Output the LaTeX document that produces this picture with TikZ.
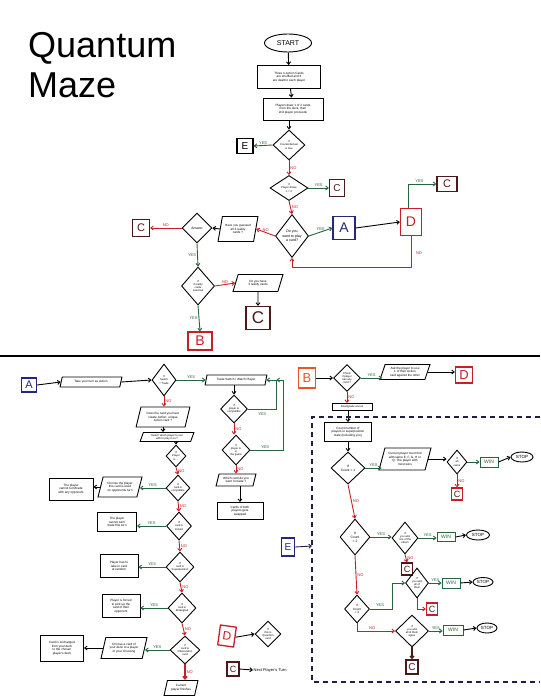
\documentclass[tikz,border=0pt]{standalone}
\usepackage{fontspec}
\setmainfont{Liberation Sans}
\usetikzlibrary{shapes.geometric,arrows.meta,calc}
\definecolor{cred}{RGB}{200,30,40}
\definecolor{cgreen}{RGB}{40,100,60}
\definecolor{cblue}{RGB}{35,40,125}
\definecolor{cbrown}{RGB}{75,25,25}
\definecolor{corange}{RGB}{232,85,40}
\definecolor{cnavy}{RGB}{30,30,70}
\begin{document}
\begin{tikzpicture}[x=1pt,y=-1pt,
  tx/.style={font=\fontsize{3.1}{3.6}\selectfont, align=center, inner sep=0.3pt},
  sm/.style={font=\fontsize{2.7}{3.1}\selectfont},
  sz/.style 2 args={minimum width=#1, minimum height=#2},
  bx/.style={tx, draw, line width=0.9pt, rectangle},
  dia/.style={tx, draw, line width=0.9pt, diamond, inner sep=0pt},
  par/.style={tx, draw, line width=0.9pt, trapezium, trapezium left angle=70, trapezium right angle=110, trapezium stretches=true},
  ovalbox/.style={draw, line width=0.9pt, ellipse, inner sep=0pt},
  letbox/.style={draw, line width=1.3pt, inner sep=0pt, align=center, font=\fontsize{#1}{#1}\selectfont},
  ar/.style={line width=0.9pt, -{Straight Barb[length=2.5pt,width=4pt]}},
  yesa/.style={ar, cgreen},
  noa/.style={ar, cred},
  ylab/.style={font=\fontsize{4}{4}\selectfont, text=cgreen, inner sep=1pt},
  nlab/.style={font=\fontsize{4}{4}\selectfont, text=cred, inner sep=1pt},
  winbox/.style={draw=cgreen, text=cgreen, line width=0.9pt, inner sep=0pt, font=\fontsize{5}{5}\selectfont},
  stopov/.style={ovalbox, font=\fontsize{4.5}{5}\selectfont}
]
\useasboundingbox (0,0) rectangle (540,700);
\fill[white] (0,0) rectangle (540,700);

% ---------- title ----------
\node[anchor=base west, inner sep=0pt, font=\fontsize{36}{36}\selectfont] (title1) at (28,58) {Quantum};
\node[anchor=base west, inner sep=0pt, font=\fontsize{36}{36}\selectfont] (title2) at (28,98) {Maze};

% ---------- top flowchart ----------
\node[ovalbox, sz={47}{18}, font=\fontsize{7}{8}\selectfont] (start) at (288,43) {START};
\node[bx, sz={63}{23}] (b1) at (289,77) {Three n-Action Cards\\are shuffled and 3\\are dealt to each player};
\node[bx, sz={60}{22}] (b2) at (293,109) {Players draw 1 of 2 cards\\from the deck, then\\2nd player proceeds};
\node[dia, sm, sz={32}{30}] (q1) at (289,145) {If\\Counterfactual\\is true};
\node[letbox=10, sz={16}{15}] (E1) at (245,146) {E};
\node[dia, sm, sz={38}{25}] (q2) at (289,188) {If\\Player draws\\n = 0};
\node[letbox=10, draw=cbrown, text=cbrown, sz={15}{17}] (C1) at (337,188) {C};
\node[dia, font=\fontsize{3.6}{4.3}\selectfont, sz={33}{43}] (q3) at (292,236) {Do you\\want to play\\a card?};
\node[letbox=14, draw=cblue, text=cblue, sz={22}{23}] (A1) at (344,228) {A};
\node[letbox=14, draw=cred, text=cred, sz={21}{27}] (D1) at (411,222) {D};
\node[letbox=11, draw=cbrown, text=cbrown, sz={20}{15}] (C2) at (447,184) {C};
\node[par, sz={40}{25}] (p1) at (238,229) {Have you guessed\\all 3 reality\\cards ?};
\node[dia, font=\fontsize{3.4}{4}\selectfont, sz={30}{30}] (q4) at (197,228) {Answer};
\node[letbox=11, draw=cbrown, text=cbrown, sz={17}{17}] (C3) at (141,228) {C};
\node[dia, sm, sz={33}{38}] (q5) at (198,286) {If\\3 reality\\cards\\selected};
\node[par, sz={50}{17}] (p2) at (258,283) {Do you have\\3 reality cards};
\node[letbox=17, draw=cbrown, text=cbrown, sz={24}{23}] (C4) at (258,318) {C};
\node[letbox=14, draw=cred, text=cred, sz={24}{18}] (B1) at (200,341) {B};

\draw[ar] (start) -- (b1);
\draw[ar] (b1) -- (b2);
\draw[ar] (b2.south -| q1.north) -- (q1.north);
\draw[yesa] (q1.west) -- (E1.east) node[midway, above, ylab] {YES};
\draw[noa] (q1.south) -- (q2.north) node[midway, right, nlab] {NO};
\draw[yesa] (q2.east) -- (C1.west) node[midway, above, ylab] {YES};
\draw[noa] (q2.south) -- (q3.north) node[midway, right, nlab] {NO};
\draw[yesa] (q3.east) -- (A1.west) node[midway, above, ylab] {YES};
\draw[ar] (A1.east) -- (D1.west);
\draw[yesa] ($(D1.north)+(-3,0)$) |- (C2.west) node[pos=0.7, above, ylab] {YES};
\draw[noa] (D1.south) -- ++(0,31.5) -| (q3.south);
\node[nlab] (dno) at (419,253) {NO};
\draw[noa] (q3.west) -- (p1.east) node[midway, above, nlab] {NO};
\draw[ar] (p1.west) -- (q4.east);
\draw[noa] (q4.west) -- (C3.east) node[midway, above, nlab] {NO};
\draw[yesa] (q4.south) -- (q5.north) node[midway, left, ylab] {YES};
\draw[noa] (q5.east) -- (p2.west) node[midway, above, nlab] {NO};
\draw[ar] (p2.south) -- (C4.north);
\draw[yesa] (q5.south) -- (B1.north) node[midway, left, ylab] {YES};

% ---------- separator ----------
\draw[line width=1.6pt] (0,356) -- (540,356);

% ---------- bottom left: A ----------
\node[letbox=11, draw=cblue, text=cblue, sz={15}{14}] (A2) at (29,385) {A};
\node[par, sz={62}{10}] (p3) at (91,382) {Take your turn as Action};
\node[dia, sm, sz={24}{32}] (q6) at (164,380) {If\\Switch\\= Trade};
\node[par, sz={62}{10}] (p4) at (236,380) {Trade Switch / Watch Player};
\node[dia, sm, sz={27}{28}] (q7) at (234,409) {If\\player is\\compatible};
\node[dia, sm, sz={28}{30}] (q8) at (236,450) {If\\player is\\in\\the game};
\node[par, sz={40}{12}] (p5) at (236,480) {Which card do you\\want to trade ?};
\node[bx, sz={46}{17}] (b5) at (240,511) {Cards of both\\players gets\\swapped};

\node[par, sz={54}{20}] (p6) at (163,417) {Does the card you have\\create Action: unique\\Action card ?};
\node[par, sm, sz={54}{9}] (p7) at (167,437) {Switch which player to use\\with to play it on ?};
\node[dia, sm, sz={20}{22}] (q9) at (176,456) {If\\Player\\is ...};
\node[dia, sm, sz={24}{26}] (q10) at (178,488) {If\\card is\\compatible};
\node[par, sz={44}{20}] (p8) at (120,487) {Choose the player\\this card is used\\on opponents turn};
\node[bx, sz={44}{22}] (b6) at (71,489) {The player\\cannot turn/trade\\with any opponent};
\node[dia, sm, sz={25}{28}] (q11) at (179,526) {If\\card is\\locked};
\node[bx, sz={39}{19}] (b7) at (117,522) {The player\\cannot turn/\\trade this turn};
\node[dia, sm, sz={28}{30}] (q12) at (180,567) {If\\card is\\Superposition};
\node[bx, sz={38}{23}] (b8) at (119,566) {Player has to\\take in card\\at random};
\node[dia, sm, sz={28}{30}] (q13) at (182,608) {If\\card is\\Entangled};
\node[bx, sz={38}{23}] (b9) at (121,606) {Player is forced\\to pick up the\\card of their\\opponent};
\node[dia, sm, sz={30}{28}] (q14) at (185,650) {If\\card is\\Observation\\card};
\node[par, sz={46}{21}] (p9) at (124,648) {Choose a card of\\your deck to a player\\of your choosing};
\node[bx, sz={43}{26}] (b10) at (62,648) {Card is exchanged\\from your deck\\to the chosen\\player's deck};
\node[par, sz={34}{15}] (p10) at (181,688) {Current\\player finishes};

\draw[ar] (A2.east) -- (p3.west);
\draw[ar] (p3.east) -- (q6.west);
\draw[yesa] (q6.east) -- (p4.west) node[midway, above, ylab] {YES};
\draw[noa] (q6.south) -- (q6.south |- p6.north) node[midway, right, nlab] {NO};
\draw[ar] (p6.south) -- (p6.south |- p7.north);
\draw[ar] (q9.north |- p7.south) -- (q9.north);
\draw[noa] (q9.south) -- (q10.north) node[midway, right, nlab] {NO};
\draw[yesa] (q10.west) -- (q10.west -| p8.east) node[midway, above, ylab] {YES};
\draw[ar] (p8.west) -- (p8.west -| b6.east);
\draw[noa] (q10.south) -- (q11.north) node[midway, right, nlab] {NO};
\draw[yesa] (q11.west) -- (q11.west -| b7.east) node[midway, above, ylab] {YES};
\draw[noa] (q11.south) -- (q12.north) node[midway, right, nlab] {NO};
\draw[yesa] (q12.west) -- (q12.west -| b8.east) node[midway, above, ylab] {YES};
\draw[noa] (q12.south) -- (q13.north) node[midway, right, nlab] {NO};
\draw[yesa] (q13.west) -- (q13.west -| b9.east) node[midway, above, ylab] {YES};
\draw[noa] (q13.south) -- (q14.north) node[midway, right, nlab] {NO};
\draw[yesa] (q14.west) -- (q14.west -| p9.east) node[midway, above, ylab] {YES};
\draw[ar] (p9.west) -- (p9.west -| b10.east);
\draw[noa, line width=1.6pt] (q14.south) -- (q14.south |- p10.north) node[midway, right, nlab] {NO};

\draw[ar] (p4.south -| q7.north) -- (q7.north);
\draw[noa] (q7.south) -- (q7.south |- q8.north) node[midway, right, nlab] {NO};
\draw[noa] (q8.south) -- (q8.south |- p5.north) node[midway, right, nlab] {NO};
\draw[ar] (p5.south -| b5.north) -- (b5.north);
\draw[yesa] (q7.east) -| ($(p4.east)+(10,0)$) -- (p4.east);
\draw[yesa] (q8.east) -| ($(p4.east)+(17,0)$) -- ($(p4.east)+(10,0)$);
\node[ylab] (y7) at (262,414) {YES};
\node[ylab] (y8) at (265,447) {YES};

% ---------- bottom right: B ----------
\node[letbox=13, draw=corange, text=corange, sz={17}{20}] (B2) at (307,378) {B};
\node[dia, sm, sz={27}{27}] (q15) at (347,378) {Check\\if player\\has any\\card ?};
\node[par, sz={50}{15}] (p11) at (405,372) {Ask the player to use\\1 of their Action\\card against the other};
\node[letbox=13, draw=cred, text=cred, sz={17}{16}] (D2) at (464,375) {D};
\node[bx, sm, sz={40}{7}] (b11) at (352,407) {Downgrade a level};
\node[bx, sz={47}{19}] (b12) at (348,432) {Count number of\\players in superposition\\state (including you)};

\draw[ar] (B2.east) -- (q15.west);
\draw[yesa] (q15.east) -- (q15.east -| p11.west) node[midway, above, ylab] {YES};
\draw[ar] (p11.east) -- (p11.east -| D2.west);
\draw[noa] (q15.south) -- (q15.south |- b11.north) node[midway, right, nlab] {NO};
\draw[ar] (b11.south -| b12.north) -- (b12.north);

% dashed region
\draw[cnavy, line width=1.3pt, dash pattern=on 5pt off 4pt] (540,417) -- (312,417) -- (312,682) -- (540,682);
\node[letbox=10, draw=cblue, text=cblue, sz={13}{18}] (E2) at (288,547) {E};
\coordinate (ein) at (312,546);
\draw[ar, cnavy] (E2.east) -- (ein);

\node[dia, font=\fontsize{3.3}{4}\selectfont, sz={34}{32}] (q16) at (348,468) {If\\Count = 1};
\node[par, sz={52}{22}] (p12) at (405,459) {Current player must find\\with same E, F, G, H or\\Q. The player with\\most wins};
\node[dia, sm, sz={20}{24}] (q17) at (457,462) {If\\all\\same};
\node[winbox, sz={18}{10}] (w1) at (489,462) {WIN};
\node[stopov, sz={22}{10}] (s1) at (522,457) {STOP};
\node[letbox=9, draw=cred, text=cbrown, sz={11}{12}] (C5) at (457,494) {C};

\node[dia, font=\fontsize{3.3}{4}\selectfont, sz={30}{36}] (q18) at (355,537) {If\\Count\\= 2};
\node[dia, sm, sz={26}{32}] (q19) at (405,538) {If\\you and\\one of the\\others};
\node[winbox, sz={18}{9}] (w2) at (446,537) {WIN};
\node[stopov, sz={23}{10}] (s2) at (478,535) {STOP};
\node[letbox=9, draw=cbrown, text=cbrown, sz={11}{12}] (C6) at (407,569) {C};

\node[dia, font=\fontsize{3}{3.6}\selectfont, sz={25}{28}] (q20) at (357,609) {If\\Count\\= 3};
\node[dia, sm, sz={23}{30}] (q21) at (417,583) {If\\you and\\all of\\them};
\node[winbox, sz={18}{10}] (w3) at (451,583) {WIN};
\node[stopov, sz={20}{9}] (s3) at (483,582) {STOP};
\node[letbox=9, draw=cred, text=cbrown, sz={11}{12}] (C7) at (432,609) {C};

\node[dia, sm, sz={33}{32}] (q22) at (412,631) {If\\you and\\all of them\\agree};
\node[winbox, sz={20}{10}] (w4) at (453,630) {WIN};
\node[stopov, sz={20}{10}] (s4) at (487,628) {STOP};
\node[letbox=10, draw=cbrown, text=cbrown, sz={12}{14}] (C8) at (412,667) {C};

\draw[ar] (b12.south) -- (q16.north);
\draw[yesa] (q16.east) -- (q16.east -| p12.west) node[midway, above, ylab] {YES};
\draw[ar] (p12.east) -- (p12.east -| q17.west);
\draw[yesa] (q17.east) -- (w1.west);
\draw[ar] (w1.east) -- (s1.west);
\draw[noa] (q17.south) -- (C5.north) node[midway, right, nlab] {NO};
\draw[noa] (q16.south) -- (q18.north) node[midway, right, nlab] {NO};
\draw[yesa] (q18.east) -- (q18.east -| q19.west) node[midway, above, ylab] {YES};
\draw[yesa] (q19.east) -- (q19.east -| w2.west) node[midway, above, ylab] {YES};
\draw[ar] (w2.east) -- (s2.west);
\draw[noa] (q19.south) -- (C6.north) node[midway, right, nlab] {NO};
\draw[noa] (q18.south) -- (q20.north) node[midway, right, nlab] {NO};
\draw[yesa] (q20.east) -| ($(q21.west)+(-13,0)$) -- (q21.west);
\node[ylab] (y20) at (380,605) {YES};
\draw[yesa] (q21.east) -- (q21.east -| w3.west) node[midway, above, ylab] {YES};
\draw[ar] (w3.east) -- (s3.west);
\draw[noa] (q21.south) |- (C7.west);
\draw[noa] (q20.south) |- (q22.west) node[pos=0.7, above, nlab] {NO};
\draw[yesa] (q22.east) -- (q22.east -| w4.west) node[midway, above, ylab] {YES};
\draw[ar] (w4.east) -- (s4.west);
\draw[ar, cbrown, line width=1.2pt] (q22.south) -- (C8.north);

% ---------- D and C legends ----------
\node[letbox=12, draw=cred, text=cred, sz={16}{20}, rotate=-8] (D3) at (227,636) {D};
\node[dia, sm, sz={26}{26}] (q23) at (268,634) {If\\this is\\Quantum\\card};
\draw[ar] (D3.east) -- (q23.west);
\node[letbox=9, draw=cbrown, text=cbrown, sz={12}{14}] (C9) at (233,669) {C};
\node[font=\fontsize{4}{4}\selectfont, anchor=west, inner sep=0.5pt] (nt) at (253,670) {Next Player's Turn};
\draw[ar] (C9.east) -- (nt.west);
\end{tikzpicture}
\end{document}
